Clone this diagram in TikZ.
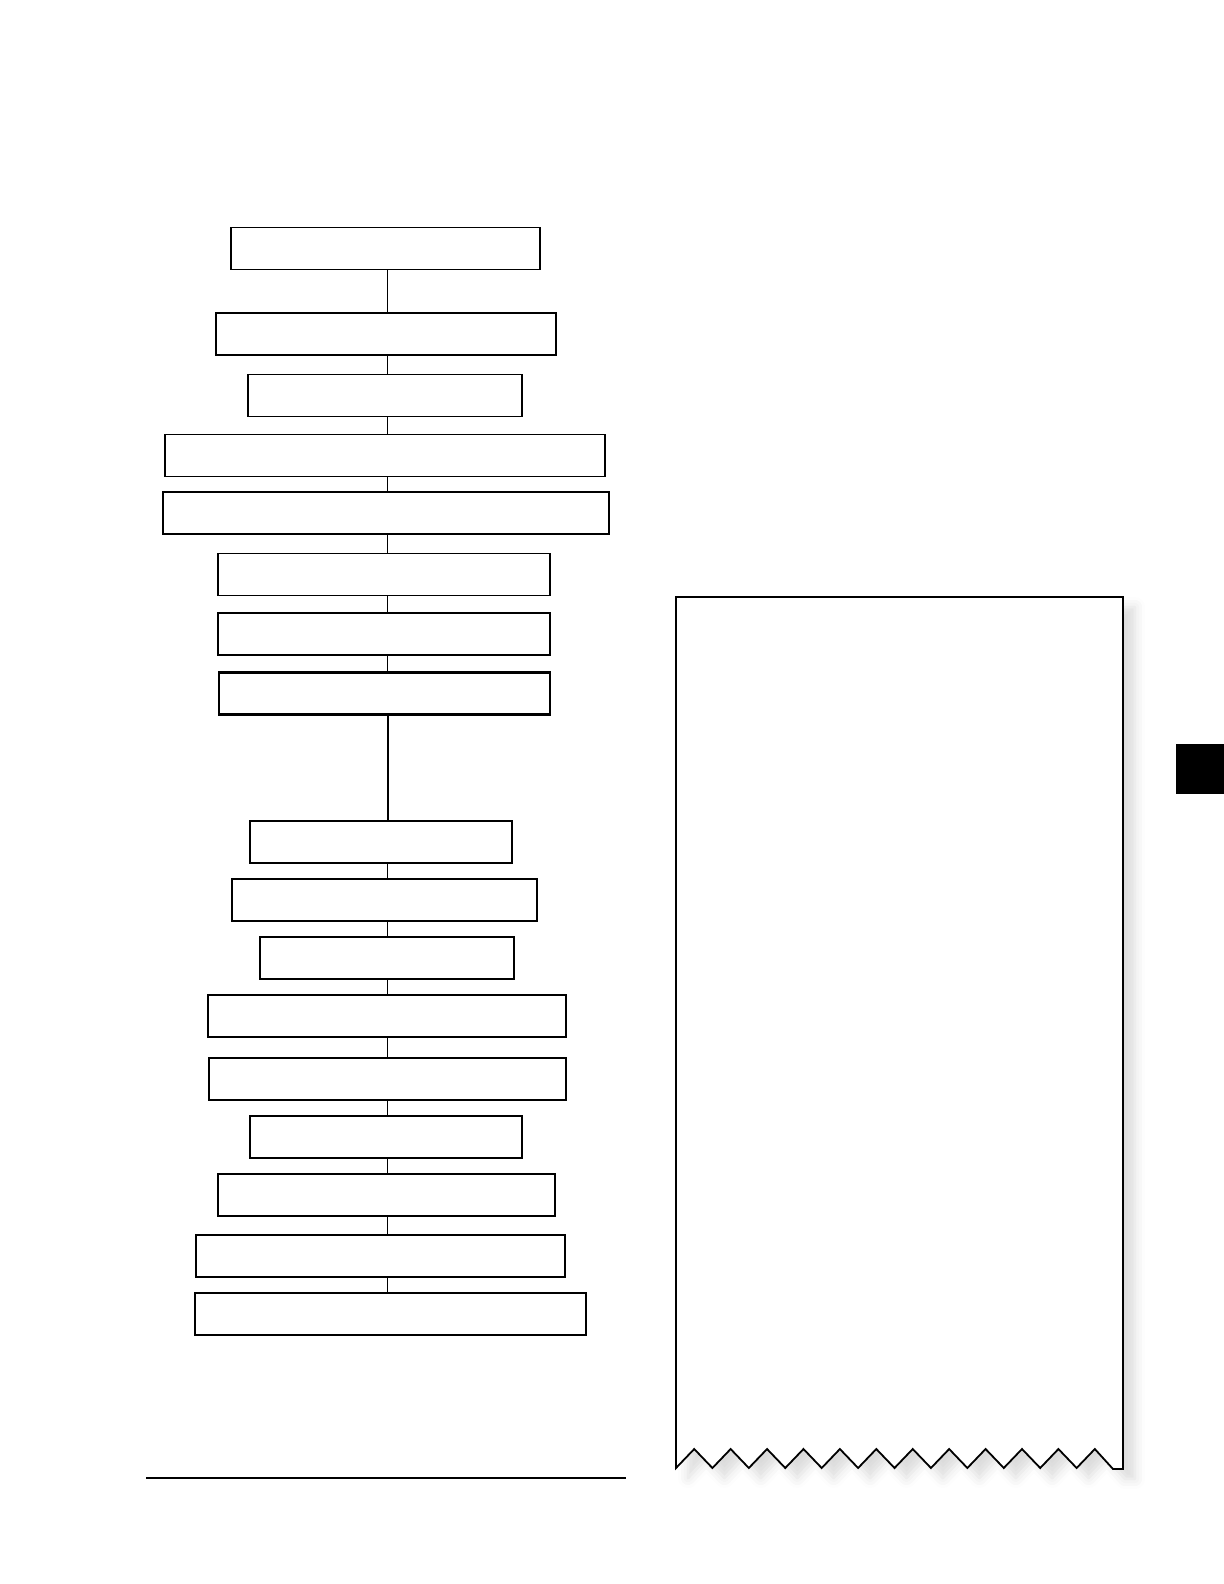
\documentclass[tikz,border=0pt]{standalone}
\usetikzlibrary{positioning,shadows,shadows.blur}
\tikzset{
  basic/.style  = {draw, rectangle, inner sep=0pt, minimum height=21pt, line width=0.65pt},
  stage/.style  = {basic, fill=white},
  stage bold/.style = {basic, fill=white, line width=1.1pt},
  link/.style   = {draw, line width=0.5pt},
  panel/.style  = {draw, fill=white, line width=0.9pt, line join=miter,
                   blur shadow={shadow xshift=6pt, shadow yshift=-5pt,
                                shadow blur radius=5pt, shadow opacity=14}}
}

\begin{document}
\begin{tikzpicture}[x=0.5pt, y=-0.5pt]
\useasboundingbox (0,0) rectangle (1224,1584);

% upper run of steps
\node[stage] (c1) at (385.5,248.5) [minimum width=154.5pt] {};
\node[stage] (c2) at (386,334) [minimum width=170pt] {};
\node[stage] (c3) at (385,395.5) [minimum width=137pt] {};
\node[stage] (c4) at (385,455.5) [minimum width=220pt] {};
\node[stage] (c5) at (386,513) [minimum width=223pt] {};
\node[stage] (c6) at (384,574.5) [minimum width=166pt] {};
\node[stage] (c7) at (384,634) [minimum width=166pt] {};
\node[stage bold] (c8) at (384.5,693.5) [minimum width=165.5pt] {};

% lower run of steps
\node[stage] (c9) at (381,842) [minimum width=131pt] {};
\node[stage bold] (c10) at (384.5,900) [minimum width=152.5pt] {};
\node[stage] (c11) at (387,958) [minimum width=127pt] {};
\node[stage] (c12) at (387,1016) [minimum width=179pt] {};
\node[stage] (c13) at (387.5,1079) [minimum width=178.5pt] {};
\node[stage] (c14) at (386,1137) [minimum width=136pt] {};
\node[stage] (c15) at (386.5,1195) [minimum width=168.5pt] {};
\node[stage] (c16) at (380.5,1256) [minimum width=184.5pt] {};
\node[stage] (c17) at (390.5,1314) [minimum width=195.5pt] {};

% the spine joining the boxes
\coordinate (spine) at (387,0);
\coordinate (gap) at (388,0);
\foreach \a [evaluate=\a as \b using int(\a+1)] in {1,...,7}
  \draw[link] (c\a.south -| spine) -- (c\b.north -| spine);
\draw[line width=1pt] (c8.south -| gap) -- (c9.north -| gap);
\foreach \a [evaluate=\a as \b using int(\a+1)] in {9,...,16}
  \draw[link] (c\a.south -| spine) -- (c\b.north -| spine);

% rule under the chart
\draw[line width=1.3pt] (146,1478) -- (626,1478);

% torn sheet on the right
\path[panel] (676,597) -- (676,1468)
  \foreach \k in {1,...,23} { -- ({676+18.21*\k},{1468-19*mod(\k,2)}) }
  -- (1113,1469) -- (1123,1469) -- (1123,597) -- cycle;

% tab at the page edge
\fill (1176,744) rectangle (1224,794);
\end{tikzpicture}
\end{document}
